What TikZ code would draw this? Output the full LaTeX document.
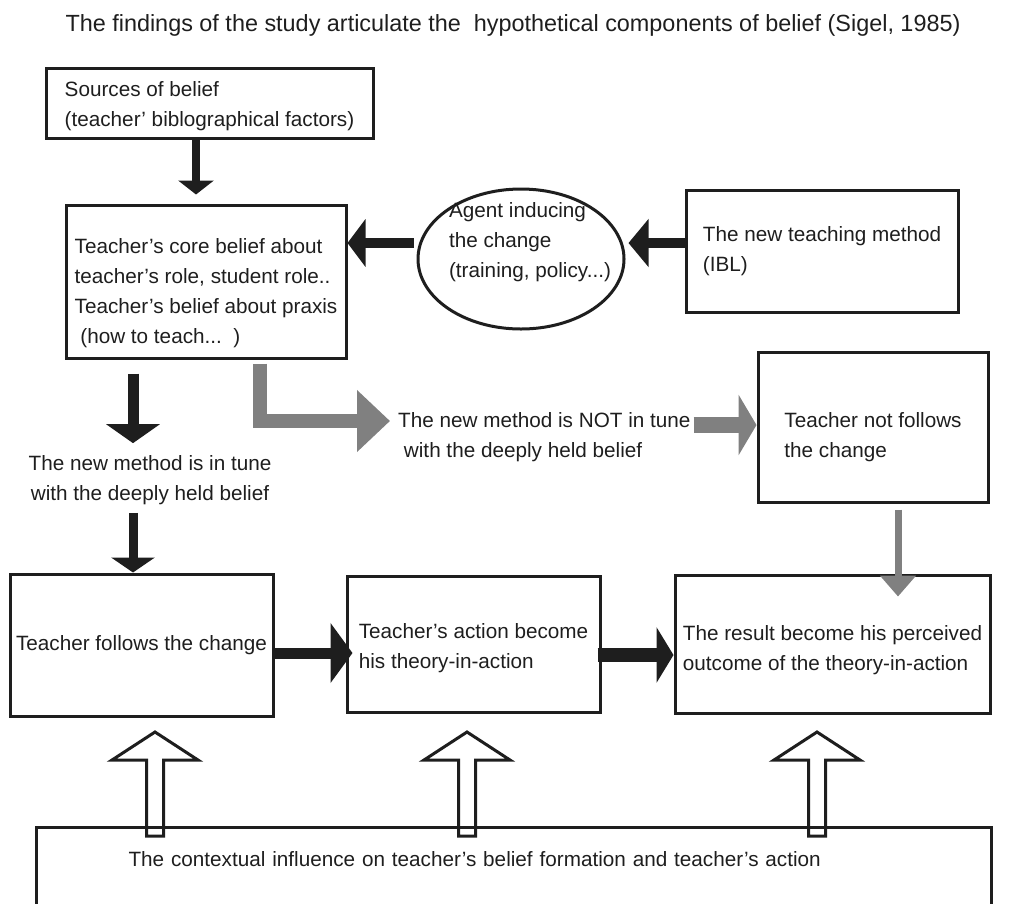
\documentclass[tikz,border=0pt]{standalone}
\usepackage{fontspec}
\setmainfont{Liberation Sans}
\usepackage{xcolor}
\definecolor{inkblack}{RGB}{30, 30, 30}
\definecolor{flowgrey}{RGB}{128, 128, 128}
\usetikzlibrary{
  arrows.meta,
  positioning,
  shapes.geometric
}

\tikzset{
  box/.style={draw=inkblack, line width=3pt, align=left, inner sep=0pt},
  blk/.style n args={3}{draw=inkblack, line width=#1, -{Triangle[width=#2, length=#3]}},
  gblk/.style n args={3}{draw=flowgrey, line width=#1, -{Triangle[width=#2, length=#3]}},
  hollowup/.pic={
    \draw[draw=inkblack, line width=3pt, fill=white]
      (-8.5,0) -- (-8.5,-76) -- (-43,-76) -- (0,-104) -- (43,-76) -- (8.5,-76) -- (8.5,0) -- cycle;
  }
}

\begin{document}
\begin{tikzpicture}[x=1pt, y=-1pt, font=\fontsize{20.7}{30}\selectfont, text=inkblack]

  \clip (0,0) rectangle (1011,903);

  \node[font=\fontsize{23.4}{30}\selectfont] (title) at (513,25) {The findings of the study articulate the~ hypothetical components of belief (Sigel, 1985)};

  % ---------- TOP: sources, core belief, agent, method ----------
  \node[box, minimum width=327pt, minimum height=70pt] (src) at (209.5,103)
    {\rule{0pt}{21pt}Sources of belief\\(teacher' biblographical factors)};
  \node[box, minimum width=280pt, minimum height=153pt] (core) at (206,281.5)
    {\rule{0pt}{39pt}Teacher's core belief about\\teacher's role, student role..\\Teacher's belief about praxis\\\ (how to teach...~~)};

  \node[ellipse, draw=inkblack, line width=3pt, minimum width=206pt, minimum height=140pt] (agent) at (521,259) {};
  \node[align=left, inner sep=0pt] (agenttxt) at (530,242)
    {Agent inducing\\the change\\(training, policy...)};

  \node[box, minimum width=272pt, minimum height=122pt] (ibl) at (822,251)
    {The new teaching method\\(IBL)};

  % ---------- MIDDLE: the two branches ----------
  \node[align=center, inner sep=0pt] (intune) at (150,480)
    {The new method is in tune\\with the deeply held belief};
  \node[align=left, inner sep=0pt, anchor=west] (notin) at (398,437)
    {The new method is NOT in tune\\\ with the deeply held belief};
  \node[box, minimum width=230pt, minimum height=150pt] (notf) at (873,427)
    {\rule{0pt}{35pt}Teacher not follows\\the change};

  % ---------- BOTTOM ROW ----------
  \node[box, minimum width=263pt, minimum height=142pt] (follow) at (141.5,645)
    {Teacher follows the change};
  \node[box, minimum width=253pt, minimum height=136pt] (action) at (473.5,644)
    {\rule{0pt}{23pt}Teacher's action become\\his theory-in-action};
  \node[box, minimum width=315pt, minimum height=138pt] (result) at (832.5,644)
    {\rule{0pt}{27pt}The result become his perceived\\outcome of the theory-in-action};

  % context pushes up into the row
  \foreach \x in {155,467,817}
    \pic at (\x,836) {hollowup};

  \node[box, anchor=north west, minimum width=955pt, text width=771pt, inner xsep=92pt, inner ysep=24pt, text depth=80pt] (context) at (35,826)
    {The contextual influence on teacher's belief formation and teacher's action};

  % black flow
  \draw[blk={8pt}{35pt}{14pt}, shorten >=9pt] (src.south -| 196,0) -- (core.north -| 196,0);
  \draw[blk={10pt}{47pt}{20pt}, shorten >=3pt] (ibl.west |- 0,243) -- (agent.east |- 0,243);
  \draw[blk={10pt}{47pt}{18pt}, shorten <=3pt] (agent.west |- 0,243) -- (core.east |- 0,243);
  \draw[blk={11pt}{53pt}{19pt}, shorten <=14pt, shorten >=12pt] (core.south -| 133,0) -- (intune.north -| 133,0);
  \draw[blk={9pt}{43pt}{15pt}, shorten <=8pt] (intune.south -| 133,0) -- (follow.north -| 133,0);
  \draw[blk={11pt}{59pt}{22pt}, shorten >=-7pt] (follow.east |- 0,653) -- (action.west |- 0,653);
  \draw[blk={14pt}{55pt}{17pt}, shorten <=-4pt] (action.east |- 0,655) -- (result.west |- 0,655);

  % grey flow
  \draw[gblk={14pt}{60pt}{33pt}, shorten <=4pt, shorten >=8pt] (core.south -| 260,0) |- (notin.west |- 0,421);
  \draw[gblk={16pt}{60pt}{18pt}, shorten <=3pt] (notin.east |- 0,425) -- (notf.west |- 0,425);
  \draw[gblk={7pt}{35pt}{21pt}, shorten <=6pt, shorten >=-23pt] (notf.south -| 898,0) -- (result.north -| 898,0);

\end{tikzpicture}
\end{document}
